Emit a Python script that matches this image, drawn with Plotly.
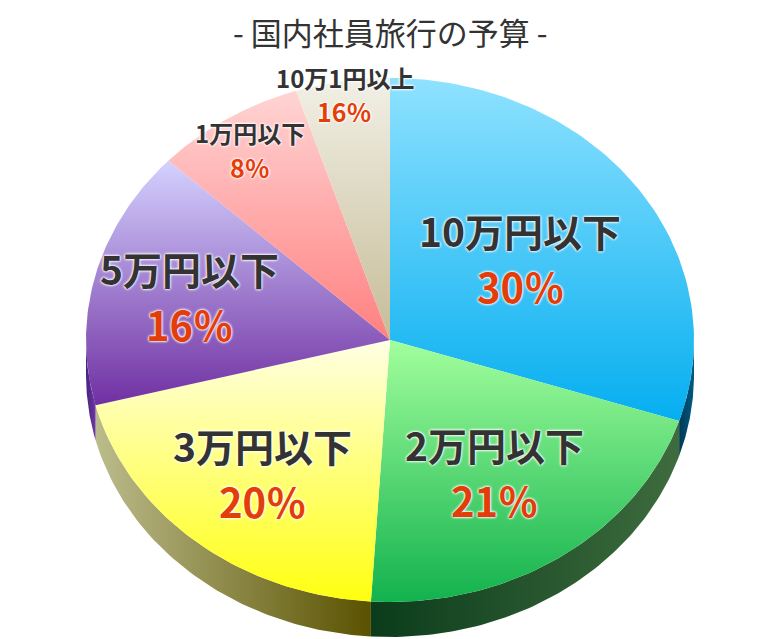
import numpy as np
import plotly.graph_objects as go

# budget categories, clockwise from 12 o'clock
names = ['10万円以下', '2万円以下', '3万円以下', '5万円以下', '1万円以下', '10万1円以上']
values = [30, 21, 20, 16, 8, 5]
pct_labels = ['30％', '21％', '20％', '16％', '8％', '16％']

# top face gradient (dark bottom -> light top), side gradient (left -> right)
top_colors = [('#05aef0', '#8fe2ff'), ('#12b24e', '#a2ff9c'), ('#ffff10', '#ffffe4'),
              ('#7030a2', '#d4d2ff'), ('#ff8080', '#ffd4d4'), ('#c6bc98', '#f2f0e6')]
side_colors = [('#003a55', '#005a82'), ('#0b3c1b', '#3e6c3e'), ('#bcbc8c', '#5a5200'),
               ('#4a1f80', '#6a3aa0'), ('#a06060', '#a06060'), ('#8a8470', '#8a8470')]
label_r = [0.53, 0.61, 0.66, 0.68, 0.86, 0.95]
big = [True, True, True, True, False, False]

CX, CY, RX, RY, DEPTH = 390, 340, 304, 262, 35
PAGE_OFF = 8  # browser body margin


def arc(a0, a1, dy=0, n=80):
    t = np.radians(np.linspace(a0, a1, n))
    return CX + RX * np.sin(t), CY - RY * np.cos(t) + dy


fig = go.Figure()
ends = np.cumsum(values) / sum(values) * 360
starts = np.concatenate([[0], ends[:-1]])

# 3D rim (only the front half is visible)
for a0, a1, (c0, c1) in zip(starts, ends, side_colors):
    s, e = max(a0, 90), min(a1, 270)
    if s >= e:
        continue
    x1, y1 = arc(s, e)
    x2, y2 = arc(e, s, DEPTH)
    fig.add_scatter(x=np.r_[x1, x2], y=np.r_[y1, y2], fill='toself', mode='lines',
                    line=dict(width=0), hoverinfo='skip',
                    fillgradient=dict(type='horizontal', colorscale=[[0, c0], [1, c1]]))

# top faces
for a0, a1, (c0, c1) in zip(starts, ends, top_colors):
    x, y = arc(a0, a1)
    fig.add_scatter(x=np.r_[CX, x, CX], y=np.r_[CY, y, CY], fill='toself', mode='lines',
                    line=dict(width=0), hoverinfo='skip',
                    fillgradient=dict(type='vertical', colorscale=[[0, c0], [1, c1]]))

glow = '0px 0px 3px #fff, 0px 0px 3px #fff, 0px 0px 2px #fff'
for a0, a1, name, pct, r, b in zip(starts, ends, names, pct_labels, label_r, big):
    m = np.radians((a0 + a1) / 2)
    x = CX + RX * r * np.sin(m)
    y = CY - RY * r * np.cos(m)
    fs, ps, off = (39, 40, 28) if b else (24, 25, 17)
    fig.add_annotation(x=x, y=y - off, text=name, showarrow=False,
                       font=dict(family='Noto Sans CJK JP', size=fs, color='#333333',
                                 weight='bold', shadow=glow))
    fig.add_annotation(x=x, y=y + off, text=pct, showarrow=False,
                       font=dict(family='Noto Sans CJK JP', size=ps, color='#e33d0a',
                                 weight='bold', shadow=glow))

fig.add_annotation(x=CX, y=31, text='- 国内社員旅行の予算 -', showarrow=False,
                   font=dict(family='Noto Sans CJK JP', size=31, color='#333333'))

fig.update_layout(
    width=780, height=639, margin=dict(l=0, r=0, t=0, b=0),
    paper_bgcolor='white', plot_bgcolor='white', showlegend=False,
    xaxis=dict(range=[PAGE_OFF, 780 + PAGE_OFF], visible=False, fixedrange=True),
    yaxis=dict(range=[639 + PAGE_OFF, PAGE_OFF], visible=False, fixedrange=True),
)

fig.write_html("out.html")
